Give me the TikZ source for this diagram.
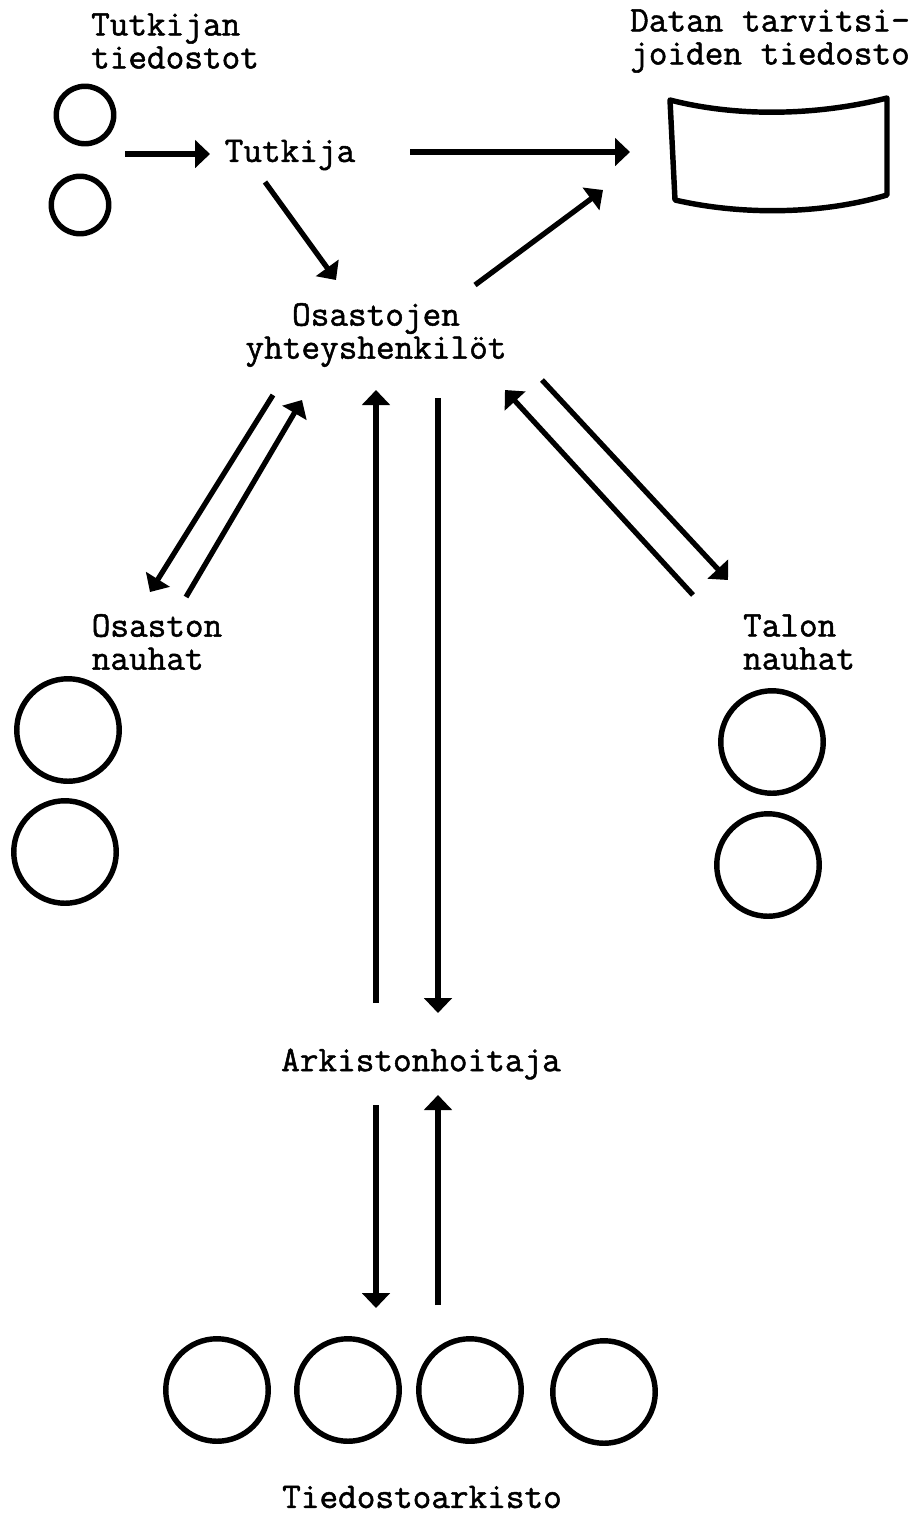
\documentclass[tikz,border=0pt]{standalone}
\usepackage{fontspec}
\newfontfamily\tfont[FakeBold=1.4]{Latin Modern Mono}
\usetikzlibrary{arrows.meta}
\begin{document}
\begin{tikzpicture}[x=0.02cm,y=-0.02cm,
  lbl/.style={font=\tfont\fontsize{20.6}{18.8}\selectfont, inner sep=0pt},
  reel/.style={circle, draw, line width=3.1pt, inner sep=0pt},
  smallreel/.style={reel, minimum size=1.15cm},
  bigreel/.style={reel, minimum size=2.05cm},
  arr/.style={line width=3pt, -{Triangle[length=0.3cm,width=0.55cm]}},
  ln/.style={line width=3pt, line cap=round}]
\useasboundingbox (0,0) rectangle (923,1516);

% labels
\node[lbl, align=left] (tt) at (175,41) {Tutkijan\\tiedostot};
\node[lbl] (tutkija) at (290,155) {Tutkija};
\node[lbl, align=left] (dt) at (770,41) {Datan tarvitsi-\\joiden tiedosto};
\node[lbl, align=center] (oy) at (376,335) {Osastojen\\yhteyshenkilöt};
\node[lbl, align=left] (on) at (157,642) {Osaston\\nauhat};
\node[lbl, align=left] (tn) at (799,642) {Talon\\nauhat};
\node[lbl] (ar) at (421,1064) {Arkistonhoitaja};
\node[lbl] (ta) at (422,1497) {Tiedostoarkisto};

% researcher's files
\node[smallreel] (c1) at (85,115) {};
\node[smallreel] (c2) at (80,205) {};

% users' file (card)
\draw[line width=3.1pt, line join=round] (670,100) .. controls (740,118) and (820,115) .. (887,98)
  -- (887,195) .. controls (820,215) and (740,215) .. (675,200) -- cycle;
\coordinate (box) at (778,155);

% department tapes
\node[bigreel] (o1) at (68,730) {};
\node[bigreel] (o2) at (65,852) {};
% house tapes
\node[bigreel] (t1) at (772,742) {};
\node[bigreel] (t2) at (768,865) {};
% archive
\node[bigreel] (a1) at (217,1390) {};
\node[bigreel] (a2) at (348,1390) {};
\node[bigreel] (a3) at (470,1390) {};
\node[bigreel] (a4) at (604,1392) {};

% arrow end points
\coordinate (p1s) at (125,154); \coordinate (p1e) at (210,154);
\coordinate (p2s) at (410,152); \coordinate (p2e) at (630,152);
\coordinate (p3s) at (265,182); \coordinate (p3e) at (336,280);
\coordinate (p4s) at (475,285); \coordinate (p4e) at (603,190);
\coordinate (p5s) at (273,395); \coordinate (p5e) at (150,592);
\coordinate (p6s) at (186,597); \coordinate (p6e) at (302,400);
\coordinate (p7s) at (376,1003); \coordinate (p7e) at (376,390);
\coordinate (p8s) at (438,398); \coordinate (p8e) at (438,1013);
\coordinate (p9s) at (693,595); \coordinate (p9e) at (505,390);
\coordinate (p10s) at (542,380); \coordinate (p10e) at (728,580);
\coordinate (p11s) at (376,1105); \coordinate (p11e) at (376,1308);
\coordinate (p12s) at (438,1305); \coordinate (p12e) at (438,1095);

\draw[arr] (p1s) -- (p1e);
\draw[arr] (p2s) -- (p2e);
\draw[arr] (p3s) -- (p3e);
\draw[arr] (p4s) -- (p4e);
\draw[arr] (p5s) -- (p5e);
\draw[arr] (p6s) -- (p6e);
\draw[arr] (p7s) -- (p7e);
\draw[arr] (p8s) -- (p8e);
\draw[arr] (p9s) -- (p9e);
\draw[arr] (p10s) -- (p10e);
\draw[arr] (p11s) -- (p11e);
\draw[arr] (p12s) -- (p12e);
\end{tikzpicture}
\end{document}
